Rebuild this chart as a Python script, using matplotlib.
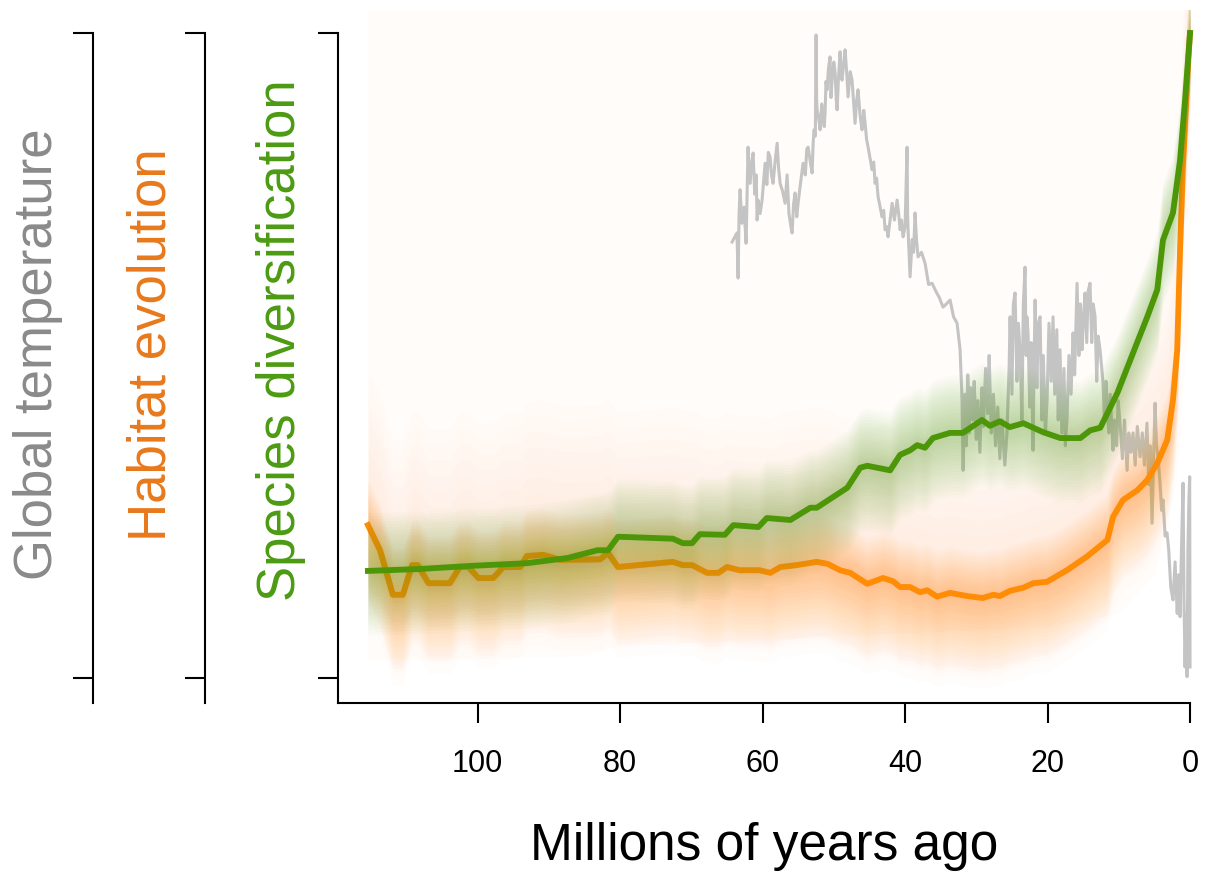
import numpy as np
import matplotlib
matplotlib.use("Agg")
import matplotlib.pyplot as plt

plt.rcParams['font.family'] = ['Liberation Sans', 'DejaVu Sans']

# --- данные (возраст в млн лет, значения в условных единицах 0..100) ---
# глобальная температура
temp_age = [64.28, 63.6, 63.44, 63.3, 63.16, 62.9, 62.6, 62.32, 62.15, 62.04,
            61.9, 61.75, 61.55, 61.33, 61.1, 60.9, 60.77, 60.63, 60.35, 60.07,
            59.85, 59.65, 59.4, 59.2, 58.95, 58.75, 58.53, 58.25, 57.96, 57.75,
            57.54, 57.2, 56.84, 56.56, 56.3, 56.1, 55.86, 55.65, 55.44, 55.2,
            55.02, 54.7, 54.32, 54.0, 53.8, 53.61, 53.3, 53.05, 52.9, 52.77,
            52.6, 52.49, 52.42, 52.35, 52.1, 51.93, 51.7, 51.51, 51.35, 51.23,
            51.1, 50.95, 50.75, 50.53, 50.4, 50.25, 50.0, 49.82, 49.65, 49.54,
            49.35, 49.12, 48.95, 48.84, 48.6, 48.42, 48.2, 48.0, 47.7, 47.44,
            47.2, 47.02, 46.8, 46.6, 46.3, 46.04, 45.8, 45.61, 45.4, 45.19,
            44.9, 44.63, 44.4, 44.21, 44.0, 43.79, 43.5, 43.23, 43.0, 42.81,
            42.6, 42.39, 42.1, 41.82, 41.5, 41.12, 40.9, 40.7, 40.5, 40.28,
            40.0, 39.72, 39.65, 39.58, 39.3, 39.0, 38.8, 38.6, 38.4, 38.18,
            37.7, 37.19, 36.7, 36.21, 35.7, 35.2, 34.67, 34.2, 33.68, 33.2,
            32.7, 32.5, 32.28, 32.0, 31.86, 31.6, 31.4,
            31.2, 31.0, 30.8, 30.5, 30.3, 30.0, 29.8, 29.5, 29.2, 29.0,
            28.7, 28.4, 28.2, 27.9, 27.6, 27.3, 27.0, 26.7, 26.4, 26.0,
            25.7, 25.4, 25.26, 25.0, 24.8, 24.56, 24.3, 24.1, 23.86, 23.6,
            23.4, 23.16, 23.0, 22.9, 22.74, 22.5, 22.3, 22.04, 21.9, 21.75,
            21.5, 21.3, 21.05, 20.8, 20.6, 20.3, 20.07, 19.8, 19.5, 19.23,
            19.0, 18.7, 18.5, 18.25, 18.0, 17.7, 17.5, 17.26, 17.0, 16.7,
            16.42, 16.2, 15.86, 15.6, 15.4, 15.16, 14.95, 14.74, 14.5, 14.3,
            14.04, 13.8, 13.6, 13.33, 13.1, 12.9, 12.63, 12.21, 12.0, 11.8,
            11.65, 11.4, 11.2, 10.81, 10.6, 10.3, 10.1, 9.82, 9.5, 9.2,
            8.84, 8.6, 8.3, 8.0, 7.7, 7.4, 7.02, 6.7, 6.4, 6.04,
            5.8, 5.6, 5.33, 5.1, 4.91, 4.7, 4.49, 4.2, 3.99, 3.79,
            3.5, 3.23, 3.0, 2.7, 2.39, 2.1, 1.8, 1.6, 1.4, 1.2,
            0.98, 0.85, 0.7, 0.55, 0.42, 0.3, 0.15, 0.05, 0.0]
temp_val = [67.6, 69.0, 62.0, 72.0, 75.7, 70.5, 73.0, 67.4, 76.0, 82.3,
            77.0, 76.7, 80.0, 81.4, 75.0, 78.0, 71.0, 74.1, 72.0, 74.1,
            77.0, 79.8, 76.5, 81.5, 80.8, 78.0, 76.7, 80.0, 82.9, 79.0,
            76.7, 75.5, 73.6, 78.0, 72.0, 70.5, 69.0, 73.5, 75.2, 71.5,
            73.6, 76.5, 79.8, 78.0, 82.0, 82.3, 80.0, 78.3, 83.0, 85.0,
            84.0, 99.7, 90.0, 88.1, 86.5, 85.0, 89.0, 87.0, 85.5, 87.6,
            92.5, 91.2, 94.5, 96.3, 90.0, 92.7, 95.5, 93.8, 89.5, 88.1,
            93.0, 97.1, 93.0, 92.7, 95.5, 97.4, 94.0, 90.1, 94.0, 92.7,
            89.0, 86.0, 89.5, 91.2, 87.0, 85.0, 88.0, 86.0, 83.5, 82.3,
            80.5, 78.8, 80.0, 76.7, 77.5, 74.6, 73.0, 71.5, 72.5, 69.5,
            70.0, 68.4, 71.0, 73.6, 71.0, 74.1, 72.0, 69.5, 71.0, 68.4,
            70.0, 82.3, 72.0, 69.5, 62.2, 68.0, 66.0, 72.1, 68.0, 65.3,
            66.0, 64.3, 61.0, 61.2, 60.0, 59.0, 57.5, 58.0, 58.6, 56.0,
            55.0, 53.0, 50.9, 43.1, 32.2, 44.0, 36.0,
            47.0, 38.0, 45.0, 40.0, 46.0, 37.0, 43.0, 35.0, 45.0, 39.0,
            48.0, 41.0, 50.0, 38.0, 44.0, 36.0, 42.0, 34.0, 40.0, 33.0,
            38.0, 48.0, 56.0, 44.0, 58.0, 59.7, 46.0, 55.0, 50.9, 40.0,
            58.0, 63.7, 50.0, 56.0, 53.5, 42.0, 52.0, 35.3, 48.0, 58.6,
            45.0, 55.0, 56.0, 40.0, 50.0, 38.0, 43.1, 55.0, 46.0, 56.0,
            44.0, 54.0, 40.0, 50.9, 38.0, 48.0, 36.0, 40.5, 50.0, 44.0,
            53.5, 47.0, 61.2, 50.0, 58.0, 50.9, 56.0, 59.7, 52.0, 60.0,
            61.2, 52.0, 58.0, 56.0, 46.0, 53.0, 50.9, 45.7, 40.0, 46.0,
            42.6, 38.0, 44.0, 35.3, 40.0, 36.0, 43.0, 39.5, 34.0, 40.0,
            32.2, 38.0, 35.0, 38.0, 33.0, 39.0, 34.3, 38.0, 33.0, 39.5,
            30.0, 36.0, 24.0, 35.0, 42.6, 36.0, 34.3, 30.0, 26.0, 27.6,
            22.0, 22.5, 20.0, 14.0, 12.1, 18.0, 10.0, 16.0, 9.5, 20.0,
            30.2, 12.0, 1.7, 10.0, 0.2, 20.0, 28.0, 31.2, 1.7]

# эволюция местообитаний
habitat_age = [115.4, 113.7, 111.9, 110.5, 109.2, 108.4, 106.9, 103.9, 102.5, 101.3,
               99.9, 97.8, 96.4, 94.0, 93.1, 90.8, 88.4, 82.8, 81.7, 80.3,
               72.6, 71.2, 69.9, 67.8, 66.2, 65.0, 63.2, 60.4, 58.9, 57.5,
               55.2, 52.4, 50.9, 49.1, 47.7, 45.3, 43.1, 41.7, 40.7, 39.3,
               37.9, 36.9, 35.5, 33.7, 31.3, 29.1, 27.6, 26.7, 25.3, 23.4,
               22.0, 20.1, 17.3, 14.5, 11.6, 10.8, 9.4, 7.4, 6.0, 4.6,
               3.2, 2.4, 1.8, 1.4, 1.0, 0.3, 0.0]
habitat_val = [23.7, 19.8, 12.9, 12.9, 17.5, 17.5, 14.7, 14.7, 17.2, 17.2,
               15.5, 15.5, 17.2, 17.2, 18.9, 19.1, 18.3, 18.4, 19.4, 17.2,
               18.0, 17.5, 17.5, 16.3, 16.3, 17.2, 16.7, 16.7, 16.3, 17.2,
               17.5, 18.0, 17.7, 16.7, 16.3, 14.6, 15.5, 15.0, 14.1, 14.1,
               13.3, 13.6, 12.6, 13.2, 12.7, 12.4, 12.9, 12.7, 13.5, 14.0,
               14.7, 14.9, 16.7, 18.8, 21.4, 25.0, 27.6, 29.1, 30.7, 33.3,
               36.9, 43.1, 50.9, 66.4, 79.2, 94.7, 100.0]

# диверсификация видов
species_age = [115.4, 108.1, 100.6, 93.05, 87.4, 83.2, 81.7, 80.3, 72.6, 71.2,
               69.9, 68.8, 65.3, 64.1, 60.6, 59.4, 56.1, 53.3, 52.4, 48.1,
               46.3, 45.3, 42.1, 40.7, 39.3, 38.3, 37.2, 36.1, 33.7, 31.9,
               29.2, 28.1, 26.7, 25.3, 23.4, 20.6, 18.2, 15.4, 14.0, 12.6,
               10.2, 8.0, 6.0, 4.6, 3.8, 2.4, 1.4, 0.7, 0.0]
species_val = [16.6, 16.9, 17.4, 17.8, 18.6, 19.8, 19.8, 21.9, 21.6, 20.9,
               20.9, 22.3, 22.2, 23.7, 23.4, 24.8, 24.5, 26.4, 26.4, 29.5,
               32.6, 32.9, 32.2, 34.6, 35.3, 36.1, 35.7, 37.2, 38.0, 38.0,
               40.0, 39.1, 39.8, 38.9, 39.5, 38.1, 37.2, 37.2, 38.4, 38.8,
               44.2, 50.4, 56.0, 60.2, 67.9, 72.1, 80.3, 89.6, 100.0]

# широкая область неопределённости (бледная заливка)
spread_age = [115.4, 100.0, 85.0, 80.0, 70.0, 60.0, 40.0, 20.0, 10.0, 5.0, 2.0, 0.0]
spread_low = [2.8, 3.0, 3.5, 5.0, 5.5, 6.0, 7.0, 8.0, 10.0, 16.0, 30.0, 60.0]
spread_high = [103.5, 103.5, 103.5, 103.5, 103.5, 103.5, 103.5, 103.5, 103.5, 103.5, 103.5, 103.5]

x_ticks = [100, 80, 60, 40, 20, 0]

c_grey = '#c4c4c4'
c_orange = '#ff8c05'
c_green = '#4c9608'

W, H = 1205, 871
fig = plt.figure(figsize=(W / 100, H / 100), dpi=100)

bottom = (H - 703) / H
height = 693 / H
ylim = (-3.88, 103.57)

ax = fig.add_axes([338 / W, bottom, 855.6 / W, height])
ax.set_xlim(119.6, -0.5)
ax.set_ylim(*ylim)


def haze(age, val, color, lo, hi, n=20, a=0.022, z=2):
    # размытая полоса вокруг кривой: много слоёв с малой прозрачностью
    age = np.asarray(age)
    val = np.asarray(val)
    for k in range(1, n + 1):
        f = k / n
        ax.fill_between(age, val - lo * f, val + hi * f, color=color, alpha=a, lw=0, zorder=z)


# бледная заливка
ax.fill_between(spread_age, spread_low, spread_high, color=c_orange, alpha=0.025, lw=0, zorder=0.5)

# температура
ax.plot(temp_age, temp_val, color=c_grey, lw=2.2, zorder=1)

# кривые с ореолами
haze(habitat_age, habitat_val, c_orange, 14, 24, n=10, a=0.012, z=1.5)
haze(habitat_age, habitat_val, c_orange, 12, 7, a=0.018, z=2)
ax.plot(habitat_age, habitat_val, color=c_orange, lw=4.2, zorder=3)

haze(species_age, species_val, c_green, 10, 9, a=0.02, z=4)
ax.plot(species_age, species_val, color=c_green, lw=4.2, zorder=5)

# оси
for s in ['top', 'right']:
    ax.spines[s].set_visible(False)
ax.spines['left'].set_bounds(ylim[0], 100)
ax.spines['bottom'].set_bounds(119.6, 0)
for s in ['left', 'bottom']:
    ax.spines[s].set_linewidth(1.5)
ax.set_yticks([0, 100])
ax.set_yticklabels([])
ax.set_xticks(x_ticks)
ax.set_xticklabels([str(t) for t in x_ticks])
ax.tick_params(axis='both', direction='out', length=14.4, width=1.5, labelsize=22, pad=19)
ax.patch.set_visible(False)

# дополнительные оси слева
for xp in [93, 205]:
    a = fig.add_axes([xp / W, bottom, 0.001, height])
    a.set_ylim(*ylim)
    for s in ['top', 'right', 'bottom']:
        a.spines[s].set_visible(False)
    a.spines['left'].set_bounds(ylim[0], 100)
    a.spines['left'].set_linewidth(1.5)
    a.set_xticks([])
    a.set_yticks([0, 100])
    a.set_yticklabels([])
    a.tick_params(axis='y', direction='out', length=14.4, width=1.5)
    a.patch.set_visible(False)

# подписи
fig.text(38 / W, 1 - 354 / H, 'Global temperature', rotation=90, fontsize=38,
         color='#8a8a8a', ha='center', va='center')
fig.text(152 / W, 1 - 345 / H, 'Habitat evolution', rotation=90, fontsize=38,
         color='#e8791c', ha='center', va='center')
fig.text(281 / W, 1 - 340 / H, 'Species diversification', rotation=90, fontsize=38,
         color='#4c9a12', ha='center', va='center')
fig.text(764 / W, 1 - 860 / H, 'Millions of years ago', fontsize=37,
         color='black', ha='center', va='baseline')

fig.savefig('out.png', dpi=100)
